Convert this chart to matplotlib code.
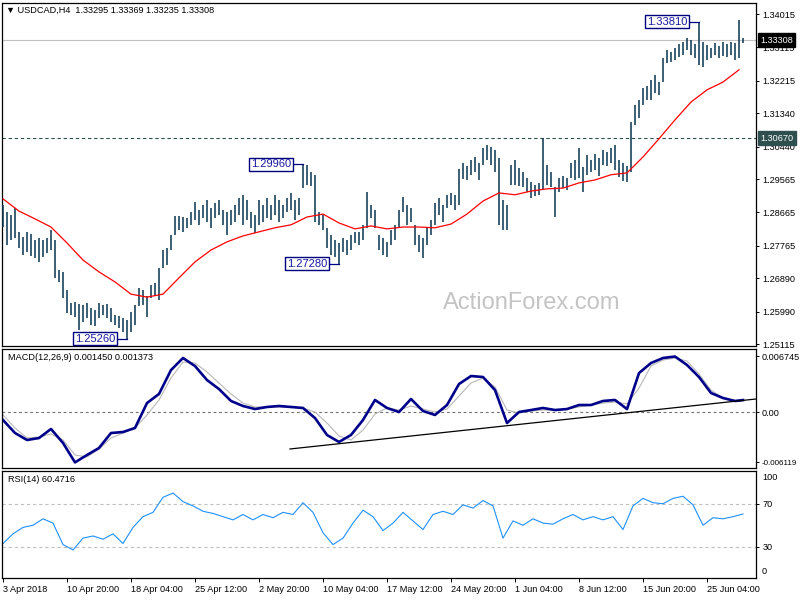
import numpy as np
import matplotlib
matplotlib.use('Agg')
import matplotlib.pyplot as plt
import matplotlib.transforms as mtrans

plt.rcParams['font.family'] = ['Liberation Sans', 'DejaVu Sans']

# H4 bars, one entry per 2 bars (high / low)
bar_high = [1.2886, 1.2868, 1.2860, 1.2879, 1.2814, 1.2801, 1.2814, 1.2808, 1.2792, 1.2798,
            1.2792, 1.2798, 1.2819, 1.2792, 1.2711, 1.2706, 1.2657, 1.2622, 1.2625, 1.2619,
            1.2617, 1.2622, 1.2609, 1.2603, 1.2622, 1.2617, 1.2619, 1.2609, 1.2590, 1.2587,
            1.2582, 1.2576, 1.2598, 1.2617, 1.2663, 1.2657, 1.2641, 1.2671, 1.2676, 1.2717,
            1.2765, 1.2771, 1.2806, 1.2857, 1.2857, 1.2855, 1.2852, 1.2868, 1.2895, 1.2873,
            1.2887, 1.2900, 1.2879, 1.2892, 1.2900, 1.2873, 1.2868, 1.2873, 1.2887, 1.2906,
            1.2914, 1.2900, 1.2868, 1.2860, 1.2900, 1.2887, 1.2906, 1.2887, 1.2914, 1.2900,
            1.2887, 1.2906, 1.2919, 1.2900, 1.2906, 1.2996, 1.2994, 1.2976, 1.2968, 1.2868,
            1.2860, 1.2825, 1.2806, 1.2792, 1.2784, 1.2798, 1.2792, 1.2806, 1.2814, 1.2814,
            1.2833, 1.2922, 1.2887, 1.2873, 1.2806, 1.2798, 1.2787, 1.2819, 1.2833, 1.2873,
            1.2908, 1.2887, 1.2879, 1.2833, 1.2806, 1.2798, 1.2825, 1.2846, 1.2892, 1.2906,
            1.2887, 1.2914, 1.2919, 1.2914, 1.2984, 1.3000, 1.2992, 1.3008, 1.3016, 1.3000,
            1.3040, 1.3048, 1.3043, 1.3035, 1.3013, 1.2900, 1.2887, 1.2995, 1.3008, 1.2987,
            1.2976, 1.2960, 1.2949, 1.2941, 1.2946, 1.3067, 1.2995, 1.2976, 1.2935, 1.2960,
            1.2965, 1.2960, 1.3000, 1.3008, 1.3040, 1.2990, 1.3021, 1.3008, 1.3024, 1.3013,
            1.3035, 1.3029, 1.3040, 1.3048, 1.3008, 1.3000, 1.2992, 1.3110, 1.3156, 1.3170,
            1.3202, 1.3207, 1.3223, 1.3237, 1.3218, 1.3283, 1.3304, 1.3299, 1.3310, 1.3320,
            1.3326, 1.3337, 1.3331, 1.3320, 1.3381, 1.3326, 1.3318, 1.3310, 1.3323, 1.3315,
            1.3326, 1.3320, 1.3326, 1.3323, 1.3385, 1.3337]
bar_low = [1.2827, 1.2779, 1.2792, 1.2798, 1.2771, 1.2752, 1.2760, 1.2749, 1.2744, 1.2733,
           1.2747, 1.2757, 1.2765, 1.2690, 1.2679, 1.2636, 1.2595, 1.2590, 1.2585, 1.2549,
           1.2571, 1.2582, 1.2563, 1.2560, 1.2582, 1.2590, 1.2582, 1.2571, 1.2563, 1.2555,
           1.2544, 1.2526, 1.2544, 1.2563, 1.2614, 1.2617, 1.2585, 1.2636, 1.2641, 1.2630,
           1.2717, 1.2725, 1.2765, 1.2806, 1.2819, 1.2814, 1.2825, 1.2833, 1.2846, 1.2833,
           1.2852, 1.2841, 1.2825, 1.2852, 1.2860, 1.2833, 1.2806, 1.2833, 1.2841, 1.2860,
           1.2833, 1.2846, 1.2825, 1.2811, 1.2833, 1.2841, 1.2852, 1.2846, 1.2860, 1.2841,
           1.2852, 1.2868, 1.2873, 1.2846, 1.2860, 1.2933, 1.2941, 1.2938, 1.2841, 1.2833,
           1.2819, 1.2771, 1.2752, 1.2747, 1.2728, 1.2760, 1.2752, 1.2765, 1.2784, 1.2779,
           1.2792, 1.2825, 1.2852, 1.2825, 1.2765, 1.2752, 1.2747, 1.2779, 1.2792, 1.2825,
           1.2868, 1.2833, 1.2841, 1.2779, 1.2760, 1.2744, 1.2779, 1.2806, 1.2833, 1.2860,
           1.2841, 1.2879, 1.2887, 1.2873, 1.2887, 1.2957, 1.2954, 1.2968, 1.2976, 1.2954,
           1.2995, 1.3008, 1.2995, 1.2976, 1.2833, 1.2819, 1.2819, 1.2941, 1.2941, 1.2938,
           1.2935, 1.2922, 1.2906, 1.2911, 1.2914, 1.2927, 1.2941, 1.2935, 1.2854, 1.2922,
           1.2933, 1.2927, 1.2960, 1.2954, 1.2960, 1.2922, 1.2968, 1.2976, 1.2981, 1.2965,
           1.2995, 1.2992, 1.3000, 1.2981, 1.2962, 1.2952, 1.2949, 1.2976, 1.3102, 1.3121,
           1.3156, 1.3170, 1.3170, 1.3188, 1.3183, 1.3218, 1.3269, 1.3272, 1.3277, 1.3285,
           1.3291, 1.3304, 1.3291, 1.3283, 1.3264, 1.3259, 1.3277, 1.3283, 1.3291, 1.3283,
           1.3288, 1.3285, 1.3291, 1.3277, 1.3283, 1.3323]

# moving average, one value every 8 bars
ma_vals = [1.2903, 1.2870, 1.2849, 1.2827, 1.2784, 1.2738, 1.2706, 1.2679, 1.2646, 1.2638,
           1.2646, 1.2690, 1.2733, 1.2765, 1.2787, 1.2803, 1.2814, 1.2825, 1.2833, 1.2854,
           1.2862, 1.2838, 1.2822, 1.2830, 1.2822, 1.2827, 1.2827, 1.2825, 1.2835, 1.2862,
           1.2897, 1.2919, 1.2914, 1.2924, 1.2930, 1.2932, 1.2946, 1.2954, 1.2968, 1.2973,
           1.3016, 1.3065, 1.3116, 1.3164, 1.3197, 1.3218, 1.3251]

# MACD main / signal, one value every 6 bars (+ last bar)
macd_main = [-0.00097, -0.00255, -0.00340, -0.00316, -0.00206, -0.00376, -0.00612, -0.00522,
             -0.00437, -0.00255, -0.00243, -0.00194, 0.00109, 0.00219, 0.00510, 0.00656,
             0.00558, 0.00388, 0.00279, 0.00134, 0.00073, 0.00036, 0.00061, 0.00073,
             0.00061, 0.00049, -0.00073, -0.00279, -0.00364, -0.00279, -0.00097, 0.00146,
             0.00049, 0.00000, 0.00158, 0.00012, -0.00036, 0.00085, 0.00340, 0.00437,
             0.00425, 0.00267, -0.00134, 0.00000, 0.00024, 0.00049, 0.00024, 0.00036,
             0.00085, 0.00085, 0.00134, 0.00146, 0.00036, 0.00473, 0.00595, 0.00656,
             0.00674, 0.00571, 0.00425, 0.00231, 0.00170, 0.00134, 0.00145]
macd_signal = [-0.00036, -0.00194, -0.00316, -0.00304, -0.00267, -0.00340, -0.00522, -0.00546,
               -0.00449, -0.00316, -0.00255, -0.00194, -0.00036, 0.00146, 0.00413, 0.00607,
               0.00595, 0.00486, 0.00352, 0.00219, 0.00109, 0.00061, 0.00061, 0.00061,
               0.00061, 0.00049, 0.00000, -0.00134, -0.00291, -0.00340, -0.00219, -0.00024,
               0.00049, 0.00024, 0.00073, 0.00036, 0.00000, 0.00036, 0.00194, 0.00352,
               0.00413, 0.00304, 0.00024, -0.00012, 0.00012, 0.00024, 0.00024, 0.00036,
               0.00061, 0.00085, 0.00109, 0.00121, 0.00097, 0.00291, 0.00558, 0.00631,
               0.00656, 0.00619, 0.00461, 0.00267, 0.00170, 0.00134, 0.00137]
trend_x = [143.5, 376.5]
trend_y = [-0.00449, 0.00158]

# RSI(14), one value every 5 bars
rsi_vals = [33, 42, 48, 50, 56, 52, 32, 27, 38, 40, 37, 42, 33, 48, 58, 62, 76, 80, 72, 68,
            63, 61, 58, 55, 60, 55, 60, 57, 62, 60, 71, 62, 43, 32, 38, 52, 64, 58, 45, 52,
            62, 54, 46, 60, 63, 60, 69, 66, 73, 68, 38, 54, 50, 56, 52, 51, 56, 60, 55, 58,
            55, 58, 46, 68, 75, 71, 70, 75, 77, 69, 50, 57, 56, 58, 60.47]

price_ticks = [1.34015, 1.33115, 1.32215, 1.31340, 1.30440, 1.29565, 1.28665,
               1.27765, 1.26890, 1.25990, 1.25115]
date_pos = [0, 32, 64, 96, 128, 160, 192, 224, 256, 288, 320, 352]
date_labels = ['3 Apr 2018', '10 Apr 20:00', '18 Apr 04:00', '25 Apr 12:00', '2 May 20:00',
               '10 May 04:00', '17 May 12:00', '24 May 20:00', '1 Jun 04:00', '8 Jun 12:00',
               '15 Jun 20:00', '25 Jun 04:00']
# (bar, price) of labelled swing points
swing_pts = [(348, 1.33810), (150, 1.29960), (168, 1.27280), (62, 1.25260)]
bid_price = 1.33308
level_price = 1.30670

bar_x = np.arange(len(bar_high)) * 2
ma_x = np.arange(len(ma_vals)) * 8
macd_x = np.append(np.arange(0, 367, 6), 370)
rsi_x = np.arange(len(rsi_vals)) * 5

FS = 6.6
fig = plt.figure(figsize=(8, 6), dpi=100)
ax = fig.add_axes([0.0025, 0.4233, 0.9425, 0.5717])
ax2 = fig.add_axes([0.0025, 0.22, 0.9425, 0.1983])
ax3 = fig.add_axes([0.0025, 0.0367, 0.9425, 0.1783])

for a in (ax, ax2, ax3):
    a.set_xlim(-0.5, 376.5)
    a.yaxis.tick_right()
    a.tick_params(axis='y', labelsize=FS, length=2.5, pad=2, width=0.7)
    for s in a.spines.values():
        s.set_linewidth(0.9)
    a.set_xticks([])

# main price chart
ax.set_ylim(1.25061, 1.34312)
ax.vlines(bar_x, bar_low, bar_high, color='#123c55', lw=1.15, zorder=3)
ax.plot(ma_x, ma_vals, color='red', lw=0.9, zorder=4)
ax.axhline(bid_price, color='#c0c0c0', lw=0.8, zorder=1)
ax.axhline(level_price, color='#2f4f4f', lw=0.8, ls=(0, (3, 2.5)), zorder=1)
ax.set_yticks(price_ticks)
ax.set_yticklabels(['%.5f' % p for p in price_ticks])

tr = mtrans.blended_transform_factory(ax.transAxes, ax.transData)
ax.text(1.0055, bid_price, '%.5f' % bid_price, transform=tr, ha='left', va='center',
        fontsize=FS, color='white', clip_on=False, zorder=10,
        bbox=dict(boxstyle='square,pad=0.25', fc='black', ec='black'))
ax.text(1.0055, level_price, '%.5f' % level_price, transform=tr, ha='left', va='center',
        fontsize=FS, color='white', clip_on=False, zorder=10,
        bbox=dict(boxstyle='square,pad=0.25', fc='#2f4f4f', ec='#2f4f4f'))

for bx, p in swing_pts:
    ax.plot([bx - 6, bx], [p, p], color='#000080', lw=0.9, zorder=5)
    ax.text(bx - 6, p, '%.5f' % p, ha='right', va='center', fontsize=8, color='#1a1aa0',
            zorder=6, bbox=dict(boxstyle='square,pad=0.15', fc='white', ec='#000080', lw=1.0))

ax.text(0.703, 0.125, 'ActionForex.com', transform=ax.transAxes, ha='center', va='center',
        fontsize=17, color='#c4c4c4', zorder=0)
fig.text(6 / 800, 1 - 10 / 600, '\u25bc USDCAD,H4  1.33295 1.33369 1.33235 1.33308',
         fontsize=FS, va='center', ha='left')

# MACD panel
ax2.set_ylim(-0.00680, 0.00765)
ax2.axhline(0, color='#707070', lw=0.8, ls=(0, (2.5, 2.5)))
ax2.plot(macd_x, macd_signal, color='#b8b8b8', lw=0.8)
ax2.plot(macd_x, macd_main, color='#00008b', lw=1.9)
ax2.plot(trend_x, trend_y, color='black', lw=0.9)
ax2.set_yticks([0.006745, 0.0, -0.006119])
ax2.set_yticklabels(['0.006745', '0.00', '-0.006119'])
ax2.tick_params(axis='y', pad=1.5)
ax2.get_yticklabels()[-1].set_fontsize(5.8)
ax2.text(6 / 754, 0.93, 'MACD(12,26,9) 0.001450 0.001373', transform=ax2.transAxes,
         fontsize=FS, va='center', ha='left')

# RSI panel
ax3.set_ylim(0.9, 100.5)
ax3.axhline(70, color='#c0c0c0', lw=0.8, ls=(0, (3, 2.5)))
ax3.axhline(30, color='#c0c0c0', lw=0.8, ls=(0, (3, 2.5)))
ax3.plot(rsi_x, rsi_vals, color='#1e90ff', lw=0.8)
ax3.set_yticks([70, 30])
ax3.set_yticklabels(['70', '30'])
fig.text(762 / 800, 1 - 478 / 600, '100', fontsize=FS, va='center', ha='left')
fig.text(762 / 800, 1 - 572 / 600, '0', fontsize=FS, va='center', ha='left')
ax3.text(6 / 754, 0.92, 'RSI(14) 60.4716', transform=ax3.transAxes,
         fontsize=FS, va='center', ha='left')
ax3.set_xticks(date_pos)
ax3.set_xticklabels(date_labels)
ax3.tick_params(axis='x', labelsize=FS, length=3, pad=2, width=0.7)
plt.setp(ax3.get_xticklabels(), ha='left')

fig.savefig('out.png', dpi=100)
